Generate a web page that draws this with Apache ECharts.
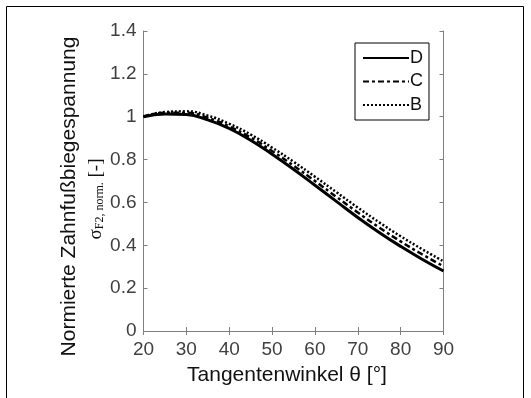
<!DOCTYPE html>
<html>
<head>
<meta charset="utf-8">
<script src="https://cdn.jsdelivr.net/npm/echarts@6/dist/echarts.min.js"></script>
<style>
    html, body {margin: 0; padding: 0; background: #fff;}
    #chart {width: 531px; height: 398px;}
</style>
</head>
<body>
<div id="chart"></div>
<script>
    // Tangentenwinkel in Grad
    const angles = [20, 25, 30, 35, 40, 45, 50, 55, 60, 65, 70, 75, 80, 85, 90];
    const valuesD = [1.000, 1.013, 1.010, 0.985, 0.945, 0.890, 0.825, 0.755, 0.680, 0.605, 0.530, 0.460, 0.395, 0.335, 0.280];
    const valuesC = [1.000, 1.018, 1.018, 0.995, 0.955, 0.903, 0.840, 0.772, 0.700, 0.626, 0.553, 0.483, 0.418, 0.358, 0.302];
    const valuesB = [1.000, 1.022, 1.025, 1.005, 0.967, 0.917, 0.856, 0.790, 0.720, 0.648, 0.576, 0.507, 0.442, 0.382, 0.325];
    const seriesNames = ['D', 'C', 'B'];

    const axisGray = '#7f7f7f';
    const labelGray = '#404040';
    const font = 'Liberation Sans, Arial, sans-serif';
    const serif = 'Liberation Serif, serif';

    const pair = (vals) => angles.map((a, i) => [a, vals[i]]);

    const tickAxis = {
        axisLine: {show: true, lineStyle: {color: axisGray, width: 1}},
        axisTick: {show: true, inside: true, length: 4, lineStyle: {color: axisGray}},
        splitLine: {show: false}
    };

    const chart = echarts.init(document.getElementById('chart'));
    chart.setOption({
        animation: false,
        textStyle: {fontFamily: font},
        grid: {left: 143.5, top: 31, width: 300, height: 300},
        legend: {
            orient: 'vertical',
            left: 355,
            top: 43,
            data: seriesNames,
            borderColor: '#000',
            borderWidth: 1,
            borderRadius: 0,
            padding: [6, 6, 6, 7],
            itemGap: 5.5,
            itemWidth: 46,
            itemHeight: 20,
            itemStyle: {opacity: 0, color: 'rgba(0,0,0,0)', borderWidth: 0},
            textStyle: {fontSize: 18, color: '#111', fontFamily: font, padding: [0, 0, 0, -4]}
        },
        xAxis: [Object.assign({
            type: 'value', min: 20, max: 90, interval: 10,
            axisLabel: {fontSize: 19, color: labelGray, margin: 9}
        }, tickAxis), Object.assign({
            type: 'value', min: 20, max: 90, interval: 10, position: 'top',
            axisLabel: {show: false}
        }, tickAxis)],
        yAxis: [Object.assign({
            type: 'value', min: 0, max: 1.4, interval: 0.2,
            axisLabel: {fontSize: 19, color: labelGray, margin: 7}
        }, tickAxis), Object.assign({
            type: 'value', min: 0, max: 1.4, interval: 0.2, position: 'right',
            axisLabel: {show: false}
        }, tickAxis)],
        series: [{
            name: 'D', type: 'line', smooth: true, symbol: 'none',
            data: pair(valuesD),
            lineStyle: {color: '#000', width: 3, type: 'solid'},
            itemStyle: {color: '#000'}
        }, {
            name: 'C', type: 'line', smooth: true, symbol: 'none',
            data: pair(valuesC),
            lineStyle: {color: '#000', width: 2.5, type: [6, 3, 3, 3]},
            itemStyle: {color: '#000'}
        }, {
            name: 'B', type: 'line', smooth: true, symbol: 'none',
            data: pair(valuesB),
            lineStyle: {color: '#000', width: 2.5, type: [2, 2]},
            itemStyle: {color: '#000'}
        }],
        graphic: [{
            // äußerer Rahmen
            type: 'polyline',
            shape: {points: [[6.5, 400], [6.5, 6.5], [523.5, 6.5], [523.5, 400]]},
            style: {stroke: '#000', lineWidth: 1, fill: null}
        }, {
            type: 'text',
            x: 287, y: 375,
            style: {
                text: 'Tangentenwinkel θ [°]',
                fontSize: 21, fontFamily: font, fill: '#111',
                align: 'center', verticalAlign: 'middle'
            }
        }, {
            type: 'text',
            x: 69.5, y: 196.5, rotation: Math.PI / 2,
            style: {
                text: 'Normierte Zahnfußbiegespannung',
                fontSize: 21, fontFamily: font, fill: '#111',
                align: 'center', verticalAlign: 'middle'
            }
        }, {
            type: 'text',
            x: 96, y: 199, rotation: Math.PI / 2,
            style: {
                text: '{s|σ}{sub|F2, norm.}{b| [-]}',
                align: 'center', verticalAlign: 'middle',
                rich: {
                    s: {fontSize: 19, fontFamily: serif, fill: '#111'},
                    sub: {fontSize: 12, fontFamily: serif, fill: '#111', verticalAlign: 'bottom', padding: [6, 0, 0, 0]},
                    b: {fontSize: 19, fontFamily: serif, fill: '#111'}
                }
            }
        }]
    });
</script>
</body>
</html>
